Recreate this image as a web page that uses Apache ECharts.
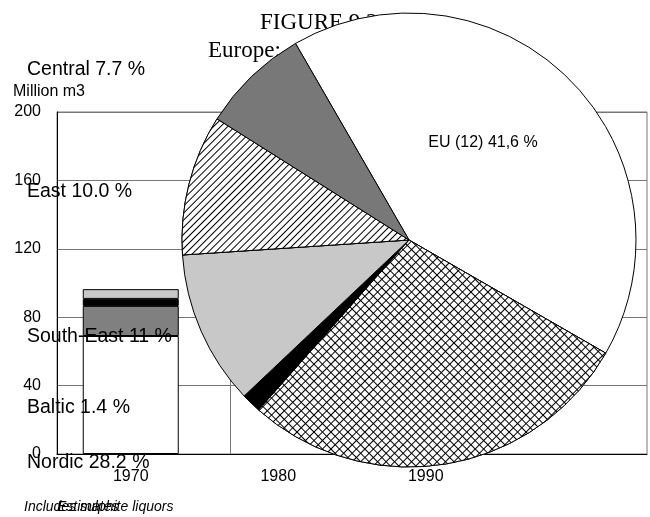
<!DOCTYPE html>
<html>
<head>
<meta charset="utf-8">
<script src="https://cdn.jsdelivr.net/npm/echarts@6/dist/echarts.min.js"></script>
<style>
  html, body { margin: 0; padding: 0; background: #fff; }
  #main { width: 650px; height: 517px; }
</style>
</head>
<body>
<div id="main"></div>
<script>
// bar part: million m3, only 1970 is filled
var categories = ['1970', '1980', '1990', ''];
var barEU = [69, null, null, null];
var barCentral = [17.6, null, null, null];
var barBaltic = [4.1, null, null, null];
var barSouthEast = [5.7, null, null, null];
var yTicks = [0, 40, 80, 120, 160, 200];

// pie part: share of Europe, %
var sliceNames = ['EU (12)', 'Nordic', 'Baltic', 'South-East', 'East', 'Central'];
var sliceValues = [41.6, 28.2, 1.4, 11, 10.0, 7.7];
var sliceText = ['41,6', '28.2', '1.4', '11', '10.0', '7.7'];

// where the slice labels sit on the page
var labelX = [483, 27, 27, 27, 27, 27];
var labelY = [143, 463, 408, 337, 192, 70];

var font = 'Liberation Sans, Arial, sans-serif';

var hatch = {
    symbol: 'rect', symbolSize: 1, color: '#000', backgroundColor: '#fff',
    dashArrayX: [1, 0], dashArrayY: [1, 4], rotation: -Math.PI / 4
};
var cross = {
    symbol: 'rect', symbolSize: 1, color: '#fff', backgroundColor: '#000',
    dashArrayX: [5, 1], dashArrayY: [5, 1], rotation: Math.PI / 4
};
var sliceStyle = [
    { color: '#fff' },
    { color: '#fff', decal: cross },
    { color: '#000' },
    { color: '#c8c8c8' },
    { color: '#fff', decal: hatch },
    { color: '#787878' }
];

var pieData = sliceNames.map(function (n, i) {
    return {
        name: n,
        value: sliceValues[i],
        itemStyle: sliceStyle[i],
        label: { fontSize: i === 0 ? 16 : 19.5 }
    };
});

function barSeries(name, data, color) {
    return {
        name: name, type: 'bar', stack: 'total', data: data, barWidth: 96,
        itemStyle: { color: color, borderColor: '#000', borderWidth: 1 },
        z: 2
    };
}

var chart = echarts.init(document.getElementById('main'));
chart.setOption({
    animation: false,
    backgroundColor: '#fff',
    title: [
        { text: 'FIGURE 9.2', left: 260, top: 11, padding: 0, z: 0,
          textStyle: { fontFamily: 'Liberation Serif, Times New Roman, serif', fontSize: 23, fontWeight: 'normal', color: '#000' } },
        { text: 'Europe:', left: 208, top: 39, padding: 0, z: 0,
          textStyle: { fontFamily: 'Liberation Serif, Times New Roman, serif', fontSize: 23, fontWeight: 'normal', color: '#000' } },
        { text: 'Million m3', left: 13, top: 84, padding: 0, z: 0,
          textStyle: { fontFamily: font, fontSize: 16, fontWeight: 'normal', color: '#000' } },
        { text: 'Includes sulphite liquors', left: 24, top: 500, padding: 0, z: 0,
          textStyle: { fontFamily: font, fontSize: 14, fontStyle: 'italic', fontWeight: 'normal', color: '#000' } },
        { text: 'Estimates', left: 57, top: 500, padding: 0, z: 0,
          textStyle: { fontFamily: font, fontSize: 14, fontStyle: 'italic', fontWeight: 'normal', color: '#000' } }
    ],
    grid: {
        left: 57, right: 3, top: 112, bottom: 63,
        show: true, borderColor: '#777', borderWidth: 1
    },
    xAxis: {
        type: 'category',
        data: categories,
        axisLine: { lineStyle: { color: '#000', width: 1 } },
        axisTick: { show: false },
        axisLabel: { color: '#000', fontFamily: font, fontSize: 16, margin: 15 }
    },
    yAxis: {
        type: 'value',
        min: yTicks[0], max: yTicks[yTicks.length - 1], interval: 40,
        axisLine: { show: true, lineStyle: { color: '#000', width: 1 } },
        axisTick: { show: false },
        axisLabel: { color: '#000', fontFamily: font, fontSize: 16, margin: 16 },
        splitLine: { lineStyle: { color: '#777', width: 1 } }
    },
    graphic: [
        { type: 'line', z: 1, silent: true,
          shape: { x1: 230.5, y1: 112, x2: 230.5, y2: 454 },
          style: { stroke: '#777', lineWidth: 1 } }
    ],
    series: [
        barSeries('EU (12)', barEU, '#fff'),
        barSeries('Central', barCentral, '#808080'),
        barSeries('Baltic', barBaltic, '#000'),
        barSeries('South-East', barSouthEast, '#c8c8c8'),
        {
            type: 'pie',
            z: 5,
            silent: true,
            center: [409, 240],
            radius: 227,
            startAngle: 120,
            clockwise: true,
            avoidLabelOverlap: false,
            itemStyle: { borderColor: '#000', borderWidth: 1 },
            label: {
                show: true,
                position: 'outside',
                color: '#000',
                fontFamily: font,
                formatter: function (p) {
                    return p.name + ' ' + sliceText[p.dataIndex] + ' %';
                }
            },
            labelLine: { show: false },
            labelLayout: function (p) {
                var i = p.dataIndex;
                return {
                    x: labelX[i], y: labelY[i],
                    align: i === 0 ? 'center' : 'left',
                    verticalAlign: 'middle'
                };
            },
            emphasis: { disabled: true },
            data: pieData
        }
    ]
});
</script>
</body>
</html>
